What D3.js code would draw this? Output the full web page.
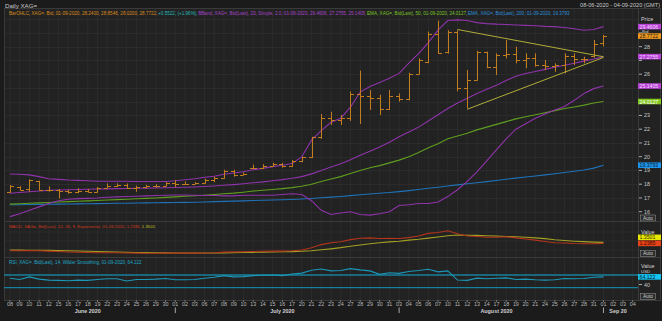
<!DOCTYPE html>
<html><head><meta charset="utf-8">
<script src="https://cdn.jsdelivr.net/npm/d3@7"></script>
<style>
body{margin:0;background:#1b1b1b;}
svg{display:block;}
text{font-family:"Liberation Sans",Arial,sans-serif;}
</style></head>
<body><svg id="c" width="662" height="321"></svg>
<script>
// ---------- DATA ----------
const dayLabels = ["08","09","10","11","12","15","16","17","18","19","22","23","24","25","26","29","30",
"01","02","03","06","07","08","09","10","13","14","15","16","17","20","21","22","23","24","27","28","29","30","31",
"03","04","05","06","07","10","11","12","13","14","17","18","19","20","21","24","25","26","27","28","31",
"01","02","03","04"];
const monthLabels = ["June 2020","July 2020","August 2020","Sep 20"];
const monthStart = [0,17,40,61];
const monthEnd = [16,39,60,64];

const open  = [17.45,17.80,17.62,18.20,17.60,17.55,17.50,17.40,17.50,17.45,17.75,17.90,17.95,17.70,17.80,17.85,17.90,
18.10,18.05,18.05,18.10,18.30,18.45,18.95,18.70,19.15,19.15,19.35,19.45,19.30,19.70,19.95,21.40,22.80,22.70,22.80,24.55,24.40,24.25,23.50,
24.40,24.20,26.00,26.90,28.95,27.60,29.10,25.00,25.60,27.60,26.50,27.40,27.50,27.00,27.20,26.70,26.60,26.70,27.30,27.10,27.30,28.24];
const high  = [17.94,17.85,18.35,18.25,17.85,17.65,17.60,17.70,17.65,17.80,18.06,18.06,18.05,17.90,17.95,18.00,18.15,
18.30,18.20,18.15,18.40,18.55,19.05,19.05,18.85,19.42,19.45,19.56,19.55,19.75,20.00,21.45,23.10,23.27,23.03,24.73,26.26,24.85,24.50,24.85,
24.60,26.10,27.15,29.10,29.90,29.20,29.20,26.30,27.70,27.64,27.52,28.49,28.00,27.52,27.52,27.03,26.79,27.52,27.52,27.27,28.49,28.8546];
const low   = [17.38,17.55,17.45,17.55,17.45,16.97,17.30,17.35,17.40,17.40,17.70,17.80,17.65,17.45,17.70,17.75,17.85,
17.80,17.95,18.00,18.05,18.15,18.40,18.55,18.65,19.10,19.10,19.30,19.20,19.25,19.60,19.90,21.30,22.30,22.30,22.60,22.38,23.40,23.03,23.40,
24.00,24.10,26.00,26.80,27.50,27.50,24.75,23.52,25.55,26.43,25.94,27.15,26.79,26.43,26.55,26.30,26.18,26.06,26.67,26.79,27.20,28.02];
const close = [17.85,17.60,18.30,17.60,17.55,17.50,17.40,17.50,17.45,17.75,17.90,17.95,17.70,17.80,17.85,17.90,18.10,
18.05,18.05,18.10,18.30,18.45,18.95,18.70,18.75,19.15,19.35,19.45,19.30,19.70,19.95,21.40,22.80,22.70,22.80,24.55,24.40,24.25,23.50,24.40,
24.20,26.00,27.05,28.95,27.55,29.10,25.00,25.60,27.60,26.50,27.40,27.50,27.00,27.20,26.70,26.60,26.70,27.30,27.10,27.10,28.20,28.7722];

const bbUpper = [18.74,18.72,18.68,18.55,18.40,18.35,18.30,18.28,18.25,18.22,18.22,18.22,18.22,18.20,18.20,18.20,18.20,
18.25,18.32,18.40,18.50,18.58,18.72,18.82,18.90,19.05,19.15,19.28,19.38,19.50,20.00,21.20,21.90,22.50,22.80,23.60,24.70,25.10,25.40,25.70,
26.06,26.80,27.50,28.30,29.20,29.90,29.95,29.90,29.75,29.68,29.64,29.62,29.58,29.55,29.52,29.48,29.46,29.40,29.30,29.20,29.25,29.4606];
const bbMiddle = [17.34,17.40,17.45,17.50,17.55,17.58,17.60,17.62,17.63,17.65,17.66,17.68,17.69,17.70,17.71,17.72,17.74,
17.76,17.78,17.80,17.83,17.87,17.92,17.97,18.03,18.10,18.17,18.25,18.33,18.43,18.55,18.75,19.00,19.25,19.48,19.78,20.10,20.40,20.70,21.05,
21.45,21.80,22.15,22.60,23.05,23.50,23.90,24.25,24.60,24.90,25.20,25.55,25.85,26.05,26.20,26.35,26.50,26.65,26.80,26.95,27.10,27.2755];
const bbLower = [15.64,15.85,16.10,16.35,16.60,16.80,16.90,16.95,16.97,17.00,17.05,17.08,17.10,17.12,17.15,17.18,17.20,
17.22,17.22,17.20,17.18,17.18,17.15,17.15,17.20,17.20,17.20,17.20,17.25,17.30,17.25,16.80,16.10,15.80,15.90,16.00,15.80,15.75,15.85,16.00,
16.45,16.50,16.60,16.60,16.70,17.10,17.60,18.20,18.90,19.70,20.50,21.30,22.00,22.40,22.80,23.10,23.40,23.65,24.10,24.60,24.95,25.1405];
const ema50 = [16.55,16.58,16.61,16.64,16.67,16.70,16.73,16.76,16.79,16.82,16.85,16.88,16.91,16.94,16.97,17.00,17.04,
17.08,17.12,17.16,17.20,17.25,17.30,17.35,17.42,17.50,17.56,17.62,17.68,17.75,17.85,18.00,18.20,18.38,18.55,18.78,19.00,19.20,19.35,19.55,
19.75,20.00,20.30,20.65,20.95,21.30,21.50,21.70,21.95,22.15,22.35,22.55,22.75,22.90,23.05,23.20,23.35,23.50,23.62,23.75,23.90,24.0127];
const ema200 = [16.50,16.51,16.52,16.53,16.54,16.55,16.56,16.57,16.58,16.59,16.60,16.61,16.62,16.63,16.64,16.65,16.66,
16.67,16.68,16.69,16.71,16.73,16.75,16.77,16.79,16.81,16.83,16.85,16.87,16.89,16.92,16.96,17.01,17.06,17.11,17.17,17.23,17.29,17.34,17.40,
17.46,17.53,17.61,17.70,17.78,17.87,17.95,18.03,18.11,18.19,18.27,18.36,18.44,18.52,18.60,18.68,18.76,18.85,18.94,19.03,19.17,19.3793];

// triangle trend lines
const trendStartIdx = [46,47];
const trendStartVal = [29.25,23.45];
const trendEndIdx = [61,61];
const trendEndVal = [27.27,27.22];

const macdLine = [0.42,0.42,0.43,0.42,0.38,0.33,0.28,0.25,0.22,0.20,0.20,0.19,0.17,0.15,0.14,0.14,0.15,
0.15,0.15,0.15,0.17,0.20,0.26,0.29,0.30,0.33,0.36,0.38,0.38,0.42,0.50,0.75,1.10,1.30,1.42,1.65,1.80,1.85,1.78,1.80,
1.78,1.88,2.05,2.35,2.45,2.64,2.30,2.05,2.00,1.92,1.92,1.97,1.85,1.72,1.60,1.45,1.31,1.28,1.22,1.20,1.20,1.2385];
const macdSignal = [0.50,0.49,0.48,0.47,0.46,0.44,0.42,0.39,0.36,0.33,0.30,0.27,0.25,0.23,0.21,0.19,0.18,
0.17,0.16,0.16,0.16,0.17,0.18,0.20,0.22,0.24,0.26,0.28,0.30,0.32,0.36,0.42,0.52,0.63,0.76,0.92,1.05,1.20,1.31,1.40,
1.48,1.60,1.69,1.82,1.94,2.08,2.16,2.14,2.12,2.09,2.05,2.00,1.97,1.92,1.85,1.76,1.64,1.55,1.48,1.43,1.38,1.3501];
const rsi = [60,56,64,57,54,53,52,54,53,56,58,58,51,56,56,57,59,
55,55,56,60,63,68,64,65,68,69,70,68,73,76,85,89,83,84,90,86,83,72,77,
75,81,84,88,80,83,54,53,60,58,60,61,56,57,55,54,55,59,58,59,63,64.122];
const rsiLevels = [70,30];

const priceTicks = [16,17,18,19,20,21,22,23,24,25,26,27,28,29];
const rsiTicks = [40];

// ---------- LAYOUT ----------
const svg = d3.select("#c");
const W = 662, H = 321;
const L = 4, R = 638;
const mainTop = 8, mainBot = 221, macdBot = 257, rsiBot = 300;

const x = d3.scaleLinear().domain([-0.4, 64.55]).range([6, 638]);
const y = d3.scaleLinear().domain([16, 28]).range([211.7, 46.7]);
const ym = d3.scaleLinear().domain([0, 2.5]).range([254.5, 232]);
const yr = d3.scaleLinear().domain([30, 70]).range([287.7, 275]);

svg.append("rect").attr("width",W).attr("height",H).attr("fill","#1b1b1b");
const panels = [[mainTop,mainBot],[mainBot,macdBot],[macdBot,rsiBot]];
svg.selectAll(".pbg").data(panels).join("rect")
  .attr("x",L).attr("y",d=>d[0]).attr("width",W-L-1).attr("height",d=>d[1]-d[0])
  .attr("fill","#222222");

const gx = svg.append("g");
const idxAll = d3.range(dayLabels.length);
panels.forEach(p=>{
  gx.selectAll(null).data(idxAll).join("line")
    .attr("x1",i=>x(i)).attr("x2",i=>x(i)).attr("y1",p[0]).attr("y2",p[1])
    .attr("stroke","#2b2b2b").attr("stroke-width",1);
});
const hGrid = d3.range(16,31);
gx.selectAll(null).data(hGrid).join("line")
  .attr("x1",L).attr("x2",R).attr("y1",d=>Math.round(y(d))+0.5).attr("y2",d=>Math.round(y(d))+0.5)
  .attr("stroke","#2b2b2b");
gx.selectAll(null).data([0.5,1.5,2.5]).join("line")
  .attr("x1",L).attr("x2",R).attr("y1",d=>ym(d)).attr("y2",d=>ym(d)).attr("stroke","#2a2a2a");

svg.selectAll(".pf").data(panels).join("rect")
  .attr("x",L+0.5).attr("y",d=>d[0]+0.5).attr("width",W-L-2).attr("height",d=>d[1]-d[0])
  .attr("fill","none").attr("stroke","#3a3a3a");
svg.append("line").attr("x1",R+0.5).attr("x2",R+0.5).attr("y1",mainTop).attr("y2",rsiBot).attr("stroke","#3a3a3a");

svg.append("clipPath").attr("id","cm").append("rect").attr("x",L).attr("y",mainTop+10).attr("width",R-L).attr("height",mainBot-mainTop-10);
const gm = svg.append("g").attr("clip-path","url(#cm)");

const ln = arr => d3.line().x((d,i)=>x(i)).y(d=>y(d))(arr);
const lineSpecs = [
  [ema200,"#1f72b8"],[ema50,"#5f9e1f"],[bbLower,"#8f33ab"],[bbMiddle,"#8f33ab"],[bbUpper,"#8f33ab"]
];
gm.selectAll(".ml").data(lineSpecs).join("path")
  .attr("d",d=>ln(d[0])).attr("fill","none").attr("stroke",d=>d[1]).attr("stroke-width",1.1);

const bars = gm.append("g").attr("stroke","#c47d1e").attr("stroke-width",1);
const bi = d3.range(close.length);
bars.selectAll(".v").data(bi).join("line")
  .attr("x1",i=>Math.round(x(i))+0.5).attr("x2",i=>Math.round(x(i))+0.5)
  .attr("y1",i=>y(high[i])).attr("y2",i=>y(low[i]));
bars.selectAll(".o").data(bi).join("line")
  .attr("x1",i=>Math.round(x(i))-3).attr("x2",i=>Math.round(x(i))+0.5)
  .attr("y1",i=>Math.round(y(open[i]))+0.5).attr("y2",i=>Math.round(y(open[i]))+0.5);
bars.selectAll(".c").data(bi).join("line")
  .attr("x1",i=>Math.round(x(i))+0.5).attr("x2",i=>Math.round(x(i))+4)
  .attr("y1",i=>Math.round(y(close[i]))+0.5).attr("y2",i=>Math.round(y(close[i]))+0.5);

gm.selectAll(".tl").data(trendStartIdx).join("line")
  .attr("x1",(d,k)=>x(trendStartIdx[k])).attr("y1",(d,k)=>y(trendStartVal[k]))
  .attr("x2",(d,k)=>x(trendEndIdx[k])).attr("y2",(d,k)=>y(trendEndVal[k]))
  .attr("stroke","#b0ad38").attr("stroke-width",1);

const lm = arr => d3.line().x((d,i)=>x(i)).y(d=>ym(d))(arr);
svg.append("path").attr("d",lm(macdSignal)).attr("fill","none").attr("stroke","#a3a024").attr("stroke-width",1.1);
svg.append("path").attr("d",lm(macdLine)).attr("fill","none").attr("stroke","#b3351b").attr("stroke-width",1.1);

svg.selectAll(".rl").data(rsiLevels).join("line")
  .attr("x1",L).attr("x2",R).attr("y1",d=>yr(d)).attr("y2",d=>yr(d))
  .attr("stroke","#17819d").attr("stroke-width",1.3);
svg.append("path").attr("d",d3.line().x((d,i)=>x(i)).y(d=>yr(d))(rsi))
  .attr("fill","none").attr("stroke","#1b97b8").attr("stroke-width",1.1);

// ---------- TEXT ----------
const fs = 5.4;
svg.append("text").attr("x",5).attr("y",7.5).attr("fill","#c8c8c8").attr("font-size",6.2).text("Daily XAG=");
svg.append("text").attr("x",660).attr("y",7).attr("text-anchor","end").attr("fill","#c8c8c8").attr("font-size",5.6)
  .text("08-06-2020 - 04-09-2020 (GMT)");

// legend: one text per colour part; font size chosen so the whole line spans the target width
function legend(yy, len, parts){
  const g = svg.append("g");
  const ts = parts.map(p => g.append("text").attr("y",yy).attr("font-size",10).attr("fill",p[1]).text(p[0]));
  const tot = d3.sum(ts.map(t => t.node().getComputedTextLength()));
  const f = 10 * len / tot;
  ts.forEach(t => t.attr("font-size", f));
  let cx = 9;
  ts.forEach(t => { t.attr("x", cx); cx += t.node().getComputedTextLength() + 0.6; });
}
legend(14.5, 560, [
  ["BarOHLC, XAG=, Bid, 01-09-2020, 28.2400, 28.8546, 28.0200, 28.7722,","#d88a1c"],
  ["+0.5522, (+1.96%),","#22b8b8"],
  ["BBand, XAG=, Bid(Last), 20, Simple, 2.0, 01-09-2020, 29.4606, 27.2755, 25.1405,","#a642c8"],
  ["EMA, XAG=, Bid(Last), 50, 01-09-2020, 24.0127,","#78c224"],
  ["EMA, XAG=, Bid(Last), 200, 01-09-2020, 19.3793","#2b8fdc"]
]);
legend(227.5, 146, [
  ["MACD, XAG=, Bid(Last),  12, 26, 9, Exponential, 01-09-2020, 1.2385,","#d0391b"],
  ["1.3501","#c8c820"]
]);
legend(263.5, 133, [
  ["RSI, XAG=, Bid(Last),  14, Wilder Smoothing, 01-09-2020, 64.122","#1fa8c8"]
]);

// right axis
const ax = svg.append("g");
const last = close.length-1;
const priceTags = [bbUpper[last], close[last], bbMiddle[last], bbLower[last], ema50[last], ema200[last]];
const tagYs = priceTags.map(v=>y(v));
const visTicks = priceTicks.filter(t=>tagYs.every(ty=>Math.abs(y(t)-ty)>4.6));
ax.selectAll(".pt").data(priceTicks).join("line")
  .attr("x1",639).attr("x2",642).attr("y1",d=>y(d)).attr("y2",d=>y(d)).attr("stroke","#aaaaaa");
ax.selectAll(".ptl").data(visTicks).join("text")
  .attr("x",644).attr("y",d=>y(d)+2).attr("fill","#c8c8c8").attr("font-size",fs).text(d=>d);
ax.append("text").attr("x",641).attr("y",21).attr("fill","#d0d0d0").attr("font-size",fs).text("Price");
ax.append("text").attr("x",642).attr("y",32.8).attr("fill","#d0d0d0").attr("font-size",4.4).text("Bid");

ax.selectAll(".rt").data(rsiTicks).join("line")
  .attr("x1",639).attr("x2",642).attr("y1",d=>yr(d)).attr("y2",d=>yr(d)).attr("stroke","#aaaaaa");
ax.selectAll(".rtl").data(rsiTicks).join("text")
  .attr("x",644).attr("y",d=>yr(d)+2.5).attr("fill","#c8c8c8").attr("font-size",fs).text(d=>d);
ax.append("text").attr("x",641).attr("y",233.5).attr("fill","#d0d0d0").attr("font-size",fs).text("Value");
ax.append("text").attr("x",641).attr("y",268.3).attr("fill","#d0d0d0").attr("font-size",fs).text("Value");
ax.append("text").attr("x",641).attr("y",273.4).attr("fill","#d0d0d0").attr("font-size",4.4).text("USD");

function tag(yc, bg, fg, label){
  ax.append("rect").attr("x",638).attr("y",yc-2.8).attr("width",23).attr("height",5.6).attr("fill",bg);
  ax.append("text").attr("x",639.5).attr("y",yc+2).attr("fill",fg).attr("font-size",5.2).text(label);
}
tag(y(bbUpper[last]),"#b944d6","#f3d8ff",bbUpper[last].toFixed(4));
tag(y(close[last]),"#f29a1d","#1a1a1a",close[last].toFixed(4));
tag(y(bbMiddle[last]),"#b944d6","#f3d8ff",bbMiddle[last].toFixed(4));
tag(y(bbLower[last]),"#b944d6","#f3d8ff",bbLower[last].toFixed(4));
tag(y(ema50[last]),"#84c81e","#ffffff",ema50[last].toFixed(4));
tag(y(ema200[last]),"#1e96f0","#0a1a2a",ema200[last].toFixed(4));
let yRed = ym(macdLine[last]), yYel = ym(macdSignal[last]);
if (yRed - yYel < 6) yYel = yRed - 6;
tag(yYel,"#e6e600","#333300",macdSignal[last].toFixed(4));
tag(yRed,"#e8421a","#3a0a00",macdLine[last].toFixed(4));
tag(yr(rsi[last]),"#14c3f0","#06202a",rsi[last].toFixed(3));

function auto(yc){
  ax.append("rect").attr("x",640.5).attr("y",yc-3).attr("width",15).attr("height",6).attr("fill","#2c2c2c").attr("stroke","#8a8a8a").attr("stroke-width",0.6);
  ax.append("text").attr("x",648).attr("y",yc+1.8).attr("text-anchor","middle").attr("fill","#d0d0d0").attr("font-size",4.8).text("Auto");
}
auto(218); auto(253.5); auto(296.5);

// bottom axis
const bx = svg.append("g");
bx.selectAll(".dt").data(idxAll).join("line")
  .attr("x1",i=>x(i)).attr("x2",i=>x(i)).attr("y1",rsiBot).attr("y2",rsiBot+2).attr("stroke","#777");
bx.selectAll(".dl").data(idxAll).join("text")
  .attr("x",i=>x(i)).attr("y",306).attr("text-anchor","middle").attr("fill","#b8b8b8").attr("font-size",5.4)
  .text(i=>dayLabels[i]);
bx.selectAll(".ml").data(monthLabels).join("text")
  .attr("x",(d,k)=>x((monthStart[k]+monthEnd[k])/2)).attr("y",312.5).attr("text-anchor","middle")
  .attr("fill","#d0d0d0").attr("font-size",5.4).attr("font-weight","bold").text(d=>d);
bx.selectAll(".ms").data(monthStart.slice(1)).join("line")
  .attr("x1",d=>x(d)).attr("x2",d=>x(d)).attr("y1",307.5).attr("y2",313).attr("stroke","#aaaaaa");
</script></body></html>
